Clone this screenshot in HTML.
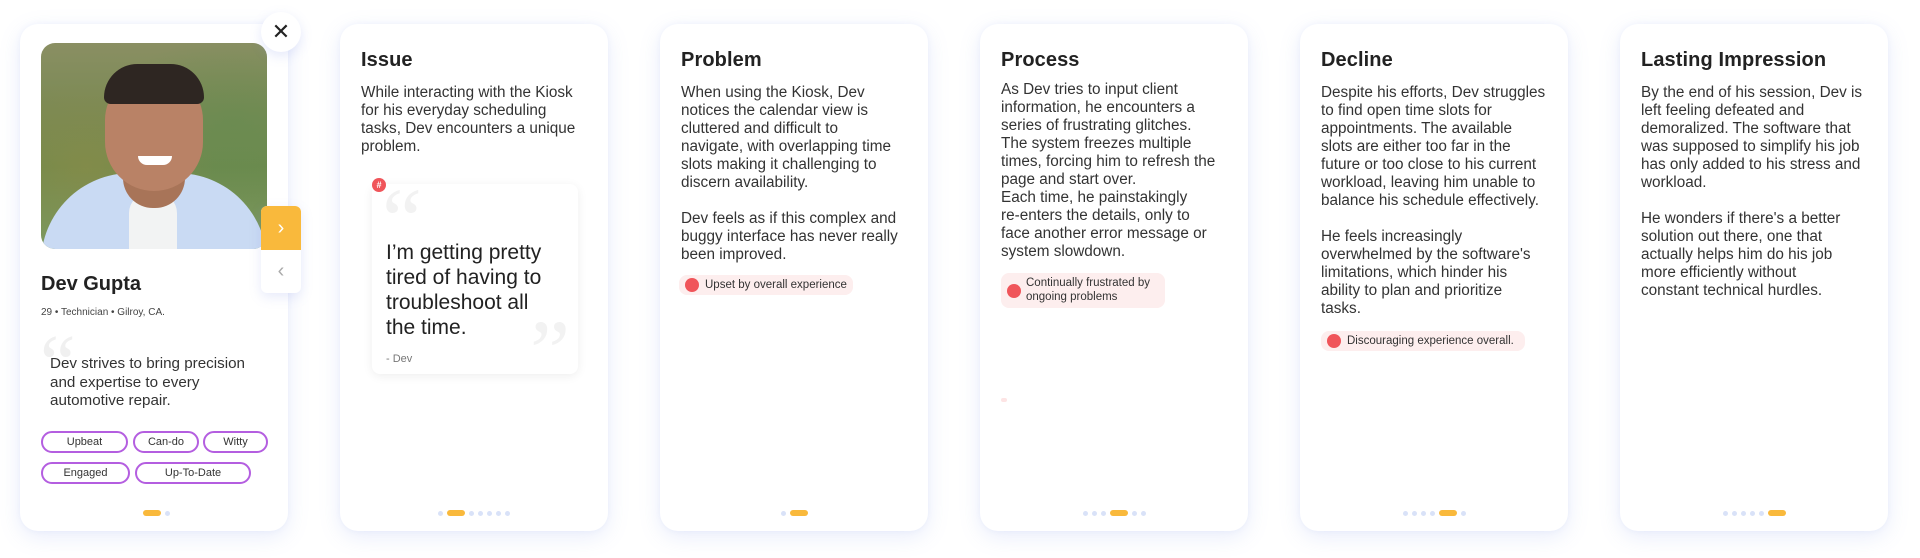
<!DOCTYPE html>
<html><head><meta charset="utf-8"><style>
*{box-sizing:border-box;margin:0;padding:0}
body{width:1920px;height:558px;background:#fff;position:relative;overflow:hidden;font-family:"Liberation Sans",sans-serif;color:#2b2b2b}
.card{position:absolute;top:24px;width:268px;height:507px;background:#fff;border-radius:18px;box-shadow:0 6px 22px rgba(120,140,230,.16),0 0 6px rgba(120,140,230,.08)}
.t{position:absolute;left:21px;top:25px;font-size:20px;font-weight:bold;color:#222;letter-spacing:.1px}
.b{position:absolute;left:21px;top:60px;font-size:15.3px;line-height:18px;color:#333;white-space:nowrap}
.dots{position:absolute;left:0;right:0;top:486px;display:flex;justify-content:center;gap:4px;align-items:center}
.dots i{display:block;width:5px;height:5px;border-radius:50%;background:#d9e2f8}
.dots i.p{width:18px;height:6px;border-radius:3px;background:#f9b93c}
.badge{position:absolute;background:#fdeeee;border-radius:8px;font-size:11.5px;color:#333;line-height:14px;white-space:nowrap}
.badge:before{content:"";position:absolute;left:6px;top:50%;margin-top:-7px;width:14px;height:14px;border-radius:50%;background:#f0555a}
.tag{position:absolute;height:22px;border:2px solid #b45ee0;border-radius:12px;font-size:11px;line-height:18px;text-align:center;color:#333}
</style></head><body>

<!-- Card 1 -->
<div class="card" style="left:20px">
  <div style="position:absolute;left:21px;top:19px;width:226px;height:206px;border-radius:14px;overflow:hidden;background:linear-gradient(180deg,#8a8f63 0%,#7b8a55 30%,#6d8a4d 60%,#7d9a60 100%)">
    <div style="position:absolute;left:0;top:0;width:226px;height:206px;background:radial-gradient(ellipse at 20% 60%,rgba(150,140,70,.5),transparent 50%),radial-gradient(ellipse at 85% 40%,rgba(100,140,80,.6),transparent 50%)"></div>
    <div style="position:absolute;left:0;top:130px;width:226px;height:100px;background:#c9daf3;border-radius:90px 90px 0 0"></div>
    <div style="position:absolute;left:88px;top:150px;width:48px;height:60px;background:#f2f3f3;border-radius:20px 20px 0 0"></div>
    <div style="position:absolute;left:82px;top:115px;width:62px;height:50px;background:#a87458;border-radius:0 0 30px 30px"></div>
    <div style="position:absolute;left:64px;top:30px;width:98px;height:118px;background:#b98266;border-radius:48px 48px 50px 50px"></div>
    <div style="position:absolute;left:63px;top:21px;width:100px;height:40px;background:#2e2622;border-radius:50px 50px 10px 10px"></div>
    <div style="position:absolute;left:97px;top:113px;width:34px;height:9px;background:#fff;border-radius:0 0 12px 12px"></div>
  </div>
  <div style="position:absolute;left:21px;top:249px;font-size:20px;font-weight:bold;color:#222">Dev Gupta</div>
  <div style="position:absolute;left:21px;top:283px;font-size:10px;color:#444">29 • Technician • Gilroy, CA.</div>
  <div style="position:absolute;left:20px;top:300px;font-family:'Liberation Serif',serif;font-size:80px;line-height:80px;color:#f0f0f0">“</div>
  <div style="position:absolute;left:30px;top:331px;font-size:15.2px;line-height:18.5px;color:#333;white-space:nowrap">Dev strives to bring precision<br>and expertise to every<br>automotive repair.</div>
  <div class="tag" style="left:21px;top:407px;width:87px">Upbeat</div>
  <div class="tag" style="left:113px;top:407px;width:66px">Can-do</div>
  <div class="tag" style="left:183px;top:407px;width:65px">Witty</div>
  <div class="tag" style="left:21px;top:438px;width:89px">Engaged</div>
  <div class="tag" style="left:115px;top:438px;width:116px">Up-To-Date</div>
  <div class="dots" style="padding-left:4px"><i class="p"></i><i></i></div>
</div>
<div style="position:absolute;left:261px;top:12px;width:40px;height:40px;border-radius:50%;background:#fff;box-shadow:0 4px 12px rgba(120,140,230,.2);text-align:center;line-height:40px;font-size:22px;color:#222">✕</div>
<div style="position:absolute;left:261px;top:206px;width:40px;height:87px;border-radius:6px;background:#fff;box-shadow:0 4px 12px rgba(120,140,230,.18)"></div>
<div style="position:absolute;left:261px;top:206px;width:40px;height:44px;border-radius:6px 6px 0 0;background:#f9b93c;color:#fff;text-align:center;line-height:44px;font-size:20px">›</div>
<div style="position:absolute;left:261px;top:250px;width:40px;height:43px;color:#aaa;text-align:center;line-height:43px;font-size:20px">‹</div>

<!-- Card 2 -->
<div class="card" style="left:340px">
  <div class="t">Issue</div>
  <div class="b">While interacting with the Kiosk<br>for his everyday scheduling<br>tasks, Dev encounters a unique<br>problem.</div>
  <div style="position:absolute;left:32px;top:160px;width:206px;height:190px;background:#fff;border-radius:8px;box-shadow:0 2px 10px rgba(0,0,0,.07)">
    <div style="position:absolute;left:10px;top:-8px;font-family:'Liberation Serif',serif;font-size:90px;line-height:90px;color:#f2f2f2">“</div>
    <div style="position:absolute;right:8px;top:124px;font-family:'Liberation Serif',serif;font-size:90px;line-height:90px;color:#f2f2f2">”</div>
    <div style="position:absolute;left:14px;top:56px;font-size:21px;line-height:25px;color:#222;white-space:nowrap">I’m getting pretty<br>tired of having to<br>troubleshoot all<br>the time.</div>
    <div style="position:absolute;left:14px;top:169px;font-size:11px;color:#777">- Dev</div>
  </div>
  <div style="position:absolute;left:32px;top:154px;width:14px;height:14px;border-radius:50%;background:#f0555a;color:#fff;font-size:9px;font-weight:bold;text-align:center;line-height:14px">#</div>
  <div class="dots"><i></i><i class="p"></i><i></i><i></i><i></i><i></i><i></i></div>
</div>

<!-- Card 3 -->
<div class="card" style="left:660px">
  <div class="t">Problem</div>
  <div class="b">When using the Kiosk, Dev<br>notices the calendar view is<br>cluttered and difficult to<br>navigate, with overlapping time<br>slots making it challenging to<br>discern availability.<br><br>Dev feels as if this complex and<br>buggy interface has never really<br>been improved.</div>
  <div class="badge" style="left:19px;top:251px;width:174px;height:20px;padding:3px 0 0 26px">Upset by overall experience</div>
  <div class="dots"><i></i><i class="p"></i></div>
</div>

<!-- Card 4 -->
<div class="card" style="left:980px">
  <div class="t">Process</div>
  <div class="b" style="top:57px">As Dev tries to input client<br>information, he encounters a<br>series of frustrating glitches.<br>The system freezes multiple<br>times, forcing him to refresh the<br>page and start over.<br>Each time, he painstakingly<br>re-enters the details, only to<br>face another error message or<br>system slowdown.</div>
  <div class="badge" style="left:21px;top:249px;width:164px;height:35px;padding:3px 0 0 25px">Continually frustrated by<br>ongoing problems</div>
  <div style="position:absolute;left:21px;top:374px;width:6px;height:4px;border-radius:2px;background:#fde4e4"></div>
  <div class="dots"><i></i><i></i><i></i><i class="p"></i><i></i><i></i></div>
</div>

<!-- Card 5 -->
<div class="card" style="left:1300px">
  <div class="t">Decline</div>
  <div class="b">Despite his efforts, Dev struggles<br>to find open time slots for<br>appointments. The available<br>slots are either too far in the<br>future or too close to his current<br>workload, leaving him unable to<br>balance his schedule effectively.<br><br>He feels increasingly<br>overwhelmed by the software's<br>limitations, which hinder his<br>ability to plan and prioritize<br>tasks.</div>
  <div class="badge" style="left:21px;top:307px;width:204px;height:20px;padding:3px 0 0 26px">Discouraging experience overall.</div>
  <div class="dots"><i></i><i></i><i></i><i></i><i class="p"></i><i></i></div>
</div>

<!-- Card 6 -->
<div class="card" style="left:1620px">
  <div class="t">Lasting Impression</div>
  <div class="b">By the end of his session, Dev is<br>left feeling defeated and<br>demoralized. The software that<br>was supposed to simplify his job<br>has only added to his stress and<br>workload.<br><br>He wonders if there's a better<br>solution out there, one that<br>actually helps him do his job<br>more efficiently without<br>constant technical hurdles.</div>
  <div class="dots"><i></i><i></i><i></i><i></i><i></i><i class="p"></i></div>
</div>
</body></html>
